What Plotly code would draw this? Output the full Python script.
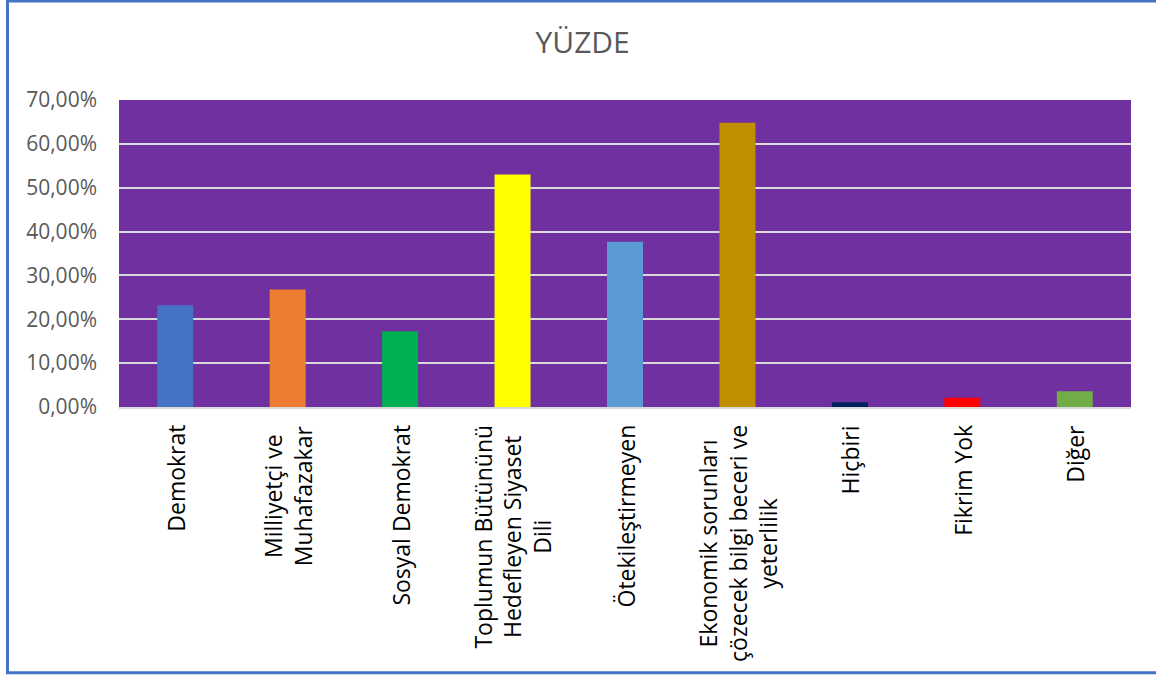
import plotly.graph_objects as go

# Category labels (line breaks as in the original chart)
categories = [
    "Demokrat",
    "Milliyetçi ve<br>Muhafazakar",
    "Sosyal Demokrat",
    "Toplumun Bütününü<br>Hedefleyen Siyaset<br>Dili",
    "Ötekileştirmeyen",
    "Ekonomik sorunları<br>çözecek bilgi beceri ve<br>yeterlilik",
    "Hiçbiri",
    "Fikrim Yok",
    "Diğer",
]
# Share of answers (fractions)
values = [0.232, 0.268, 0.173, 0.530, 0.377, 0.648, 0.011, 0.021, 0.036]
bar_colors = ["#4472C4", "#ED7D31", "#00B050", "#FFFF00", "#5B9BD5",
              "#BF8F00", "#002060", "#FF0000", "#70AD47"]
y_ticks = [0, 0.1, 0.2, 0.3, 0.4, 0.5, 0.6, 0.7]

fig = go.Figure()

fig.add_trace(go.Bar(
    x=categories, y=values,
    marker=dict(color=bar_colors, line=dict(width=0)),
    width=0.32,
    hovertemplate="%{y:.2%}<extra></extra>",
))

# x labels as annotations so the multi-line labels stay centred
for cat in categories:
    fig.add_annotation(
        x=cat, y=0, xref="x", yref="paper",
        text=cat, textangle=-90, showarrow=False,
        xanchor="center", yanchor="top", yshift=-16, align="center",
        font=dict(family="Open Sans", size=23, color="#000000"),
    )

# blue outline around the chart (right edge runs off the page)
fig.add_shape(type="rect", xref="paper", yref="paper",
              x0=-0.1102, x1=1.08, y0=-0.866, y1=1.3225,
              line=dict(color="#4472C4", width=3), layer="above")

fig.update_layout(
    width=1156, height=677,
    margin=dict(l=119, r=25, t=100, b=270),
    paper_bgcolor="white",
    plot_bgcolor="#7030A0",
    separators=",.",
    showlegend=False,
    bargap=0.68,
    title=dict(text="YÜZDE", x=0.504, xref="container", xanchor="center",
               y=0.937, yanchor="middle",
               font=dict(family="Open Sans", size=30, color="#595959")),
    xaxis=dict(showticklabels=False, showline=True, linecolor="#D9D9D9",
               linewidth=2, ticks="", showgrid=False, fixedrange=True),
    yaxis=dict(range=[0, 0.7], tickvals=y_ticks, tickformat=".2%",
               showgrid=True, gridcolor="#D9D9D9", gridwidth=2,
               zeroline=False, showline=False, ticks="", ticklabelstandoff=21,
               tickfont=dict(family="Open Sans", size=21, color="#595959"),
               fixedrange=True),
)

# drop the default page margin so the chart sits at the window's corner
fig.write_html("out.html", config={"displayModeBar": False},
               post_script="document.body.style.margin='0';")
